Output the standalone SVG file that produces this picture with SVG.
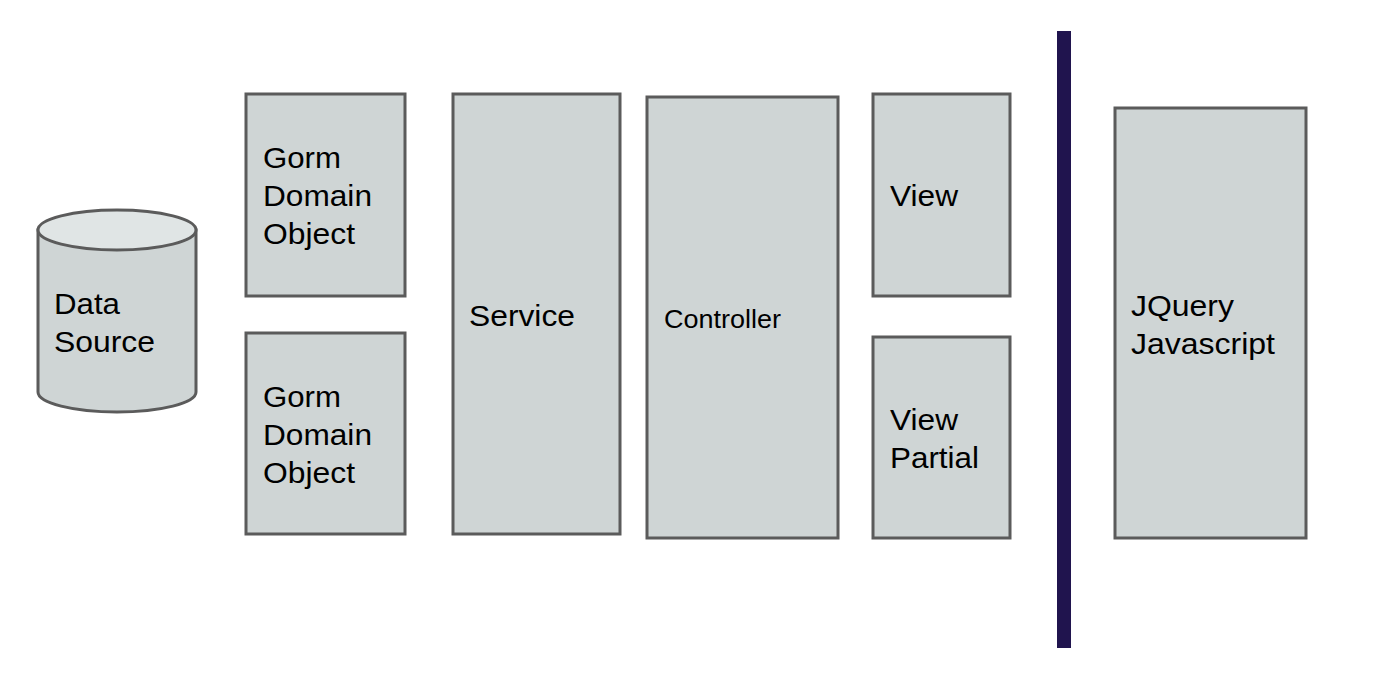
<svg xmlns="http://www.w3.org/2000/svg" width="1396" height="674" viewBox="0 0 1396 674">
<style>
.box{fill:#cfd5d5;stroke:#5b5b5b;stroke-width:3}
.top{fill:#e0e5e5;stroke:#5b5b5b;stroke-width:3}
.t{font-family:"Liberation Sans",Arial,sans-serif;font-size:29px;fill:#000}
.s{font-family:"Liberation Sans",Arial,sans-serif;font-size:25px;fill:#000}
</style>
<rect width="1396" height="674" fill="#ffffff"/>
<g id="datasource">
<path class="box" d="M38,230 L38,392 A79,20 0 0 0 196,392 L196,230 Z"/>
<ellipse class="top" cx="117" cy="230" rx="79" ry="20"/>
<text class="t" x="54" y="314" textLength="66" lengthAdjust="spacingAndGlyphs">Data</text>
<text class="t" x="54" y="352" textLength="101" lengthAdjust="spacingAndGlyphs">Source</text>
</g>
<g id="gorm1">
<rect class="box" x="246" y="94" width="159" height="202"/>
<text class="t" x="263" y="168" textLength="78" lengthAdjust="spacingAndGlyphs">Gorm</text>
<text class="t" x="263" y="206" textLength="109" lengthAdjust="spacingAndGlyphs">Domain</text>
<text class="t" x="263" y="244" textLength="92" lengthAdjust="spacingAndGlyphs">Object</text>
</g>
<g id="gorm2">
<rect class="box" x="246" y="333" width="159" height="201"/>
<text class="t" x="263" y="407" textLength="78" lengthAdjust="spacingAndGlyphs">Gorm</text>
<text class="t" x="263" y="445" textLength="109" lengthAdjust="spacingAndGlyphs">Domain</text>
<text class="t" x="263" y="483" textLength="92" lengthAdjust="spacingAndGlyphs">Object</text>
</g>
<g id="service">
<rect class="box" x="453" y="94" width="167" height="440"/>
<text class="t" x="469" y="326" textLength="106" lengthAdjust="spacingAndGlyphs">Service</text>
</g>
<g id="controller">
<rect class="box" x="647" y="97" width="191" height="441"/>
<text class="s" x="664" y="328" textLength="117" lengthAdjust="spacingAndGlyphs">Controller</text>
</g>
<g id="view">
<rect class="box" x="873" y="94" width="137" height="202"/>
<text class="t" x="890" y="206" textLength="68" lengthAdjust="spacingAndGlyphs">View</text>
</g>
<g id="viewpartial">
<rect class="box" x="873" y="337" width="137" height="201"/>
<text class="t" x="890" y="430" textLength="68" lengthAdjust="spacingAndGlyphs">View</text>
<text class="t" x="890" y="468" textLength="89" lengthAdjust="spacingAndGlyphs">Partial</text>
</g>
<g id="divider">
<rect x="1057" y="31" width="14" height="617" fill="#20144e"/>
</g>
<g id="jquery">
<rect class="box" x="1115" y="108" width="191" height="430"/>
<text class="t" x="1131" y="316" textLength="103" lengthAdjust="spacingAndGlyphs">JQuery</text>
<text class="t" x="1131" y="354" textLength="144" lengthAdjust="spacingAndGlyphs">Javascript</text>
</g>
<g id="connectors"></g>
</svg>
